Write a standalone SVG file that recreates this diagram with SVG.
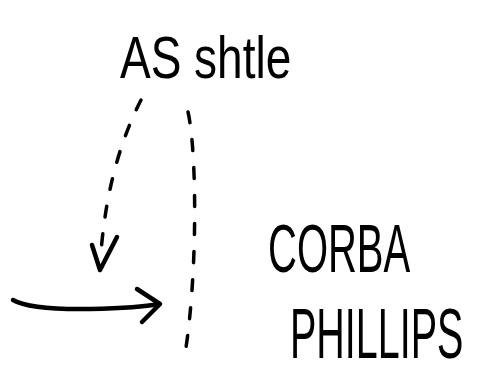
<svg xmlns="http://www.w3.org/2000/svg" width="479" height="375" viewBox="0 0 479 375">
<style>
.t{font-family:"Liberation Sans",Arial,sans-serif;fill:#000;}
.ln{fill:none;stroke:#000;stroke-linecap:round;stroke-linejoin:round;}
.dash{stroke-width:3.5;stroke-dasharray:11 17;}
.solid{stroke-width:4.5;}
</style>
<rect width="479" height="375" fill="#fff"/>
<g id="node-as-shtle">
<text class="t" transform="translate(120,78) scale(1,1.3)" font-size="46">AS shtle</text>
</g>
<g id="node-corba">
<text class="t" transform="translate(268,272) scale(1,1.72)" font-size="40">CORBA</text>
</g>
<g id="node-phillips">
<text class="t" transform="translate(290,358) scale(1,1.8)" font-size="39.5">PHILLIPS</text>
</g>
<g id="connectors">
<path class="ln dash" d="M141,100 Q108,165 101,252"/>
<path class="ln solid" d="M92,245 L100,270 L117,237"/>
<path class="ln dash" d="M188,112 C197,150 198,280 184,360"/>
<path class="ln solid" d="M13,300 Q30,310 90,309 Q140,308 158,304"/>
<path class="ln solid" d="M137,289 L160,304 L142,322"/>
</g>
</svg>
